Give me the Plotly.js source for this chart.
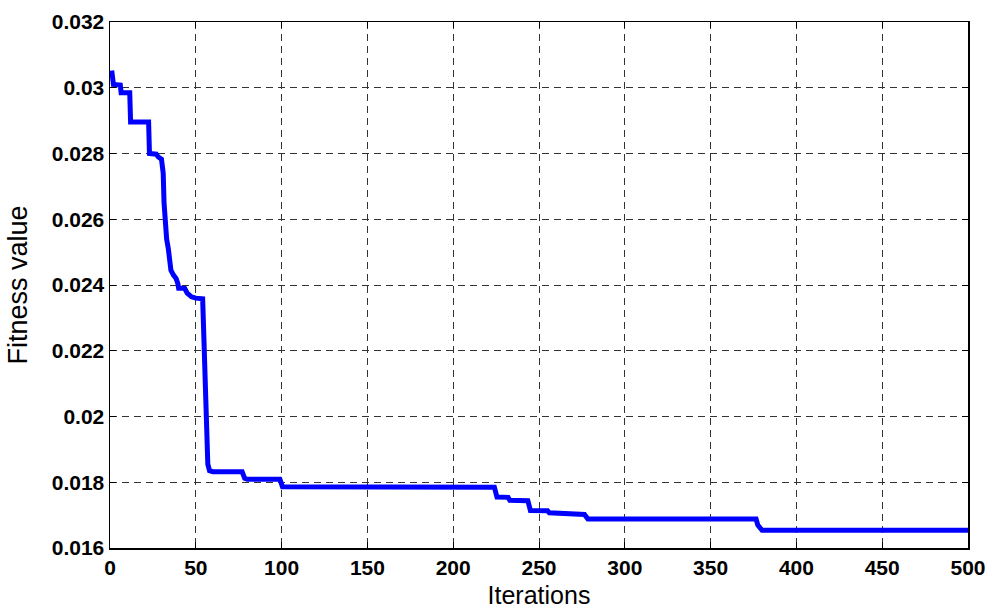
<!DOCTYPE html>
<html>
<head>
<meta charset="utf-8">
<script src="https://cdn.plot.ly/plotly-3.0.1.min.js"></script>
<style>html,body{margin:0;padding:0;background:#fff;}#chart{width:992px;height:610px;}</style>
</head>
<body>
<div id="chart"></div>
<script>
// Iteration index and best fitness value
const iterations = [1, 2, 6, 6.5, 11.5, 12, 22.5, 23, 27, 28, 30, 31, 31.5, 32, 33, 34, 35.5, 37, 38.5, 39.5, 40, 43.5, 45, 47.5, 50, 54, 55, 55.5, 56, 57, 58, 60, 77, 78.5, 80, 99, 100.5, 224, 225.5, 232, 233, 243.5, 245, 255, 256, 263, 264, 276.5, 278.5, 376.5, 377.5, 380, 500];
const fitness = [0.03052, 0.03010, 0.03008, 0.02985, 0.02985, 0.02896, 0.02896, 0.02800, 0.02798, 0.02790, 0.02783, 0.02740, 0.02650, 0.02600, 0.02540, 0.02510, 0.02445, 0.02430, 0.02420, 0.02405, 0.02390, 0.02390, 0.02375, 0.02364, 0.02360, 0.02358, 0.02200, 0.02050, 0.01940, 0.01855, 0.01835, 0.01832, 0.01832, 0.01812, 0.01809, 0.01809, 0.01786, 0.01785, 0.01755, 0.01754, 0.01745, 0.01744, 0.01714, 0.01713, 0.01707, 0.01706, 0.01703, 0.01702, 0.01688, 0.01688, 0.01670, 0.01654, 0.01654];

const xTickVals = [0, 50, 100, 150, 200, 250, 300, 350, 400, 450, 500];
const xTickText = ['0', '50', '100', '150', '200', '250', '300', '350', '400', '450', '500'];
const yTickVals = [0.016, 0.018, 0.020, 0.022, 0.024, 0.026, 0.028, 0.030, 0.032];
const yTickText = ['0.016', '0.018', '0.02', '0.022', '0.024', '0.026', '0.028', '0.03', '0.032'];

const xTitle = 'Iterations';
const yTitle = 'Fitness value';

const tickFont = {family: 'Liberation Sans, Arial, sans-serif', size: 21, color: '#000', weight: 'bold'};

const trace = {
  x: iterations,
  y: fitness,
  type: 'scatter',
  mode: 'lines',
  line: {color: '#0000FF', width: 5, shape: 'linear'},
  hoverinfo: 'skip'
};

const axisCommon = {
  showline: true,
  linecolor: '#000',
  linewidth: 1.5,
  mirror: 'ticks',
  ticks: 'inside',
  ticklen: 6,
  tickwidth: 1,
  tickcolor: '#000',
  showgrid: true,
  gridcolor: '#333',
  gridwidth: 1,
  griddash: '7px,5px',
  zeroline: false,
  tickfont: tickFont,
  tickmode: 'array'
};

const layout = {
  width: 992,
  height: 610,
  margin: {l: 110, r: 24, t: 22, b: 62},
  paper_bgcolor: '#fff',
  plot_bgcolor: '#fff',
  showlegend: false,
  xaxis: Object.assign({}, axisCommon, {
    range: [0, 500],
    tickvals: xTickVals,
    ticktext: xTickText,
    title: {text: xTitle, font: {family: 'Liberation Sans, Arial, sans-serif', size: 25, color: '#000'}, standoff: 9}
  }),
  yaxis: Object.assign({}, axisCommon, {
    range: [0.016, 0.032],
    tickvals: yTickVals,
    ticktext: yTickText,
    title: {text: yTitle, font: {family: 'Liberation Sans, Arial, sans-serif', size: 27, color: '#000'}, standoff: 16}
  })
};

Plotly.newPlot('chart', [trace], layout, {staticPlot: true, displayModeBar: false});
</script>
</body>
</html>
